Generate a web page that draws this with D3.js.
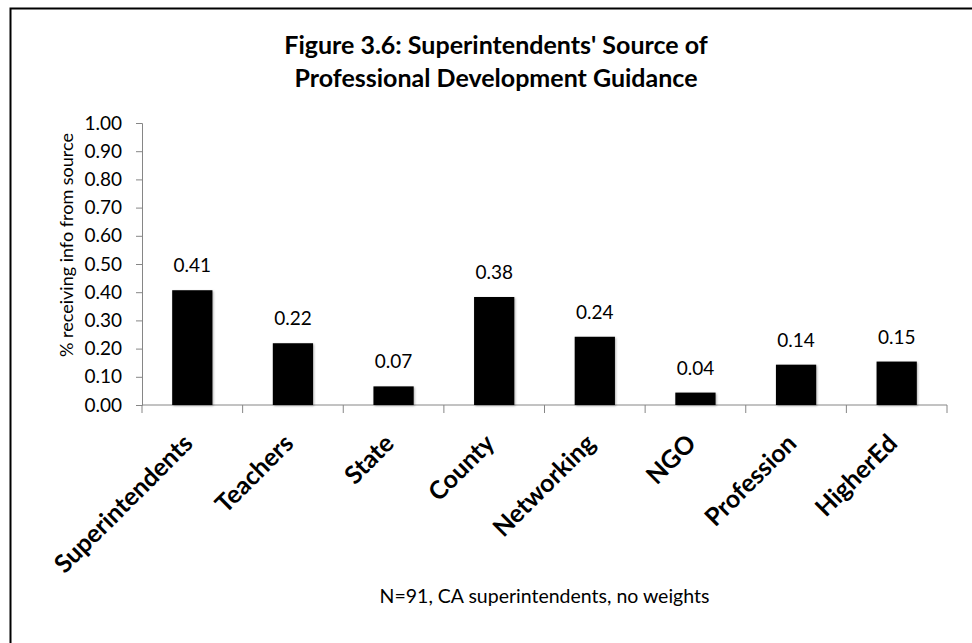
<!DOCTYPE html>
<html>
<head>
<meta charset="utf-8">
<script src="https://cdn.jsdelivr.net/npm/d3@7"></script>
<style>
  html, body { margin: 0; padding: 0; background: #fff; }
  svg { display: block; }
  text { font-family: Lato, "Open Sans", sans-serif; fill: #000; }
</style>
</head>
<body>
<svg id="chart" width="972" height="643"></svg>
<script>
const categories = ["Superintendents", "Teachers", "State", "County", "Networking", "NGO", "Profession", "HigherEd"];
const values = [0.407, 0.219, 0.066, 0.383, 0.242, 0.044, 0.143, 0.154];
const yTicks = [0, 0.1, 0.2, 0.3, 0.4, 0.5, 0.6, 0.7, 0.8, 0.9, 1.0];
const titleLines = ["Figure 3.6: Superintendents' Source of", "Professional Development Guidance"];
const yTitle = "% receiving info from source";
const footnote = "N=91, CA superintendents, no weights";

const svg = d3.select("#chart");
const W = 972, H = 643;
const plot = { left: 142, right: 947, top: 123, bottom: 405 };
const FONT = "Lato, 'Open Sans', sans-serif";

const defs = svg.append("defs");
const f = defs.append("filter").attr("id", "shadow")
  .attr("x", "-20%").attr("y", "-20%").attr("width", "140%").attr("height", "140%");
f.append("feDropShadow").attr("dx", 1).attr("dy", 1)
  .attr("stdDeviation", 1.2).attr("flood-color", "#000").attr("flood-opacity", 0.3);

// outer chart border (only left/top visible in frame)
svg.append("rect")
  .attr("x", 10.5).attr("y", 8.5)
  .attr("width", W + 20).attr("height", H + 20)
  .attr("fill", "none").attr("stroke", "#000").attr("stroke-width", 2);

const x = d3.scaleBand().domain(categories)
  .range([plot.left, plot.right]).paddingInner(0.6).paddingOuter(0.3);
const y = d3.scaleLinear().domain([0, 1]).range([plot.bottom, plot.top]);

// title
const title = svg.append("text")
  .attr("text-anchor", "middle")
  .style("font-weight", "bold").style("font-size", "25px");
titleLines.forEach((t, i) => {
  title.append("tspan").attr("x", 496).attr("y", 54 + i * 33).text(t);
});

// x axis (drawn under bars)
const xEdges = d3.range(categories.length + 1).map(i => plot.left + i * x.step());
const xAxisG = svg.append("g");
xAxisG.append("line")
  .attr("x1", plot.left).attr("x2", plot.right)
  .attr("y1", y(0)).attr("y2", y(0))
  .attr("stroke", "#868686");
xAxisG.selectAll("line.tick").data(xEdges).join("line")
  .attr("class", "tick")
  .attr("x1", d => d).attr("x2", d => d)
  .attr("y1", y(0)).attr("y2", y(0) + 8)
  .attr("stroke", "#868686");

// bars
svg.append("g").selectAll("rect").data(values).join("rect")
  .attr("x", (d, i) => x(categories[i]))
  .attr("width", x.bandwidth())
  .attr("y", d => y(d))
  .attr("height", d => y(0) - y(d))
  .attr("fill", "#000")
  .attr("filter", "url(#shadow)");

// data labels
svg.append("g").selectAll("text").data(values).join("text")
  .attr("x", (d, i) => x(categories[i]) + x.bandwidth() / 2)
  .attr("y", d => y(d) - 18)
  .attr("text-anchor", "middle")
  .style("font-size", "19px")
  .text(d => d3.format(".2f")(d));

// y axis
const yAxis = svg.append("g").attr("transform", `translate(${plot.left},0)`)
  .call(d3.axisLeft(y).tickValues(yTicks).tickFormat(d3.format(".2f")).tickSize(6).tickPadding(14));
yAxis.selectAll("path, line").attr("stroke", "#868686");
yAxis.selectAll("text").style("font-size", "19px").attr("fill", "#000").style("font-family", FONT);

// x category labels, rotated
svg.append("g").selectAll("text").data(categories).join("text")
  .attr("transform", d => `translate(${x(d) + x.bandwidth() / 2 + 2},${y(0) + 40}) rotate(-45)`)
  .attr("text-anchor", "end")
  .style("font-weight", "bold").style("font-size", "25px")
  .text(d => d);

// y axis title
svg.append("text")
  .attr("transform", `translate(73,245) rotate(-90)`)
  .attr("text-anchor", "middle")
  .style("font-size", "18px")
  .text(yTitle);

// footnote
svg.append("text")
  .attr("x", (plot.left + plot.right) / 2).attr("y", 603)
  .attr("text-anchor", "middle")
  .style("font-size", "19.5px")
  .text(footnote);
</script>
</body>
</html>
